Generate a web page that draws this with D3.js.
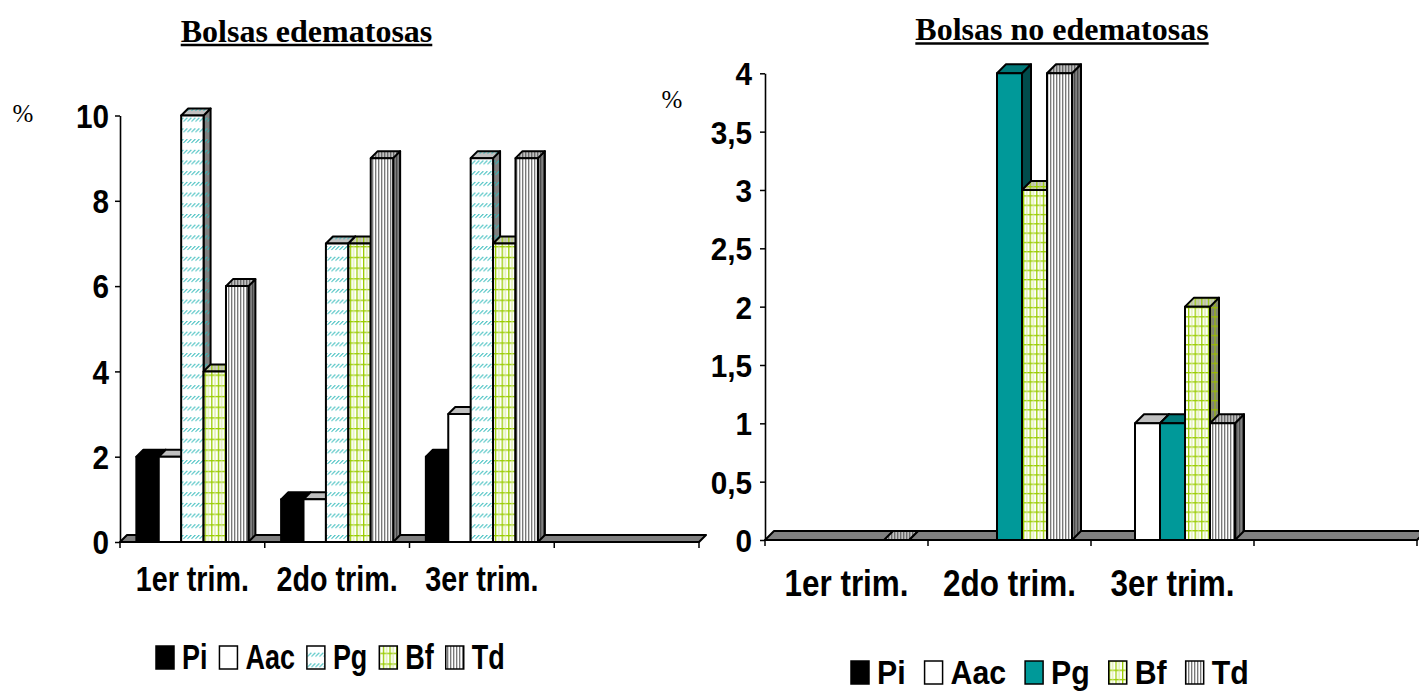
<!DOCTYPE html>
<html><head><meta charset="utf-8">
<script src="https://cdn.jsdelivr.net/npm/d3@7"></script>
<style>body{margin:0;background:#fff}svg{display:block}</style>
</head><body>
<svg id="c" width="1419" height="692"></svg>
<script>
// ---------- data ----------
const categories = ["1er trim.", "2do trim.", "3er trim.", ""];
const seriesNames = ["Pi", "Aac", "Pg", "Bf", "Td"];
// Bolsas edematosas (%)
const edemPi  = [2, 1, 2, null];
const edemAac = [2, 1, 3, null];
const edemPg  = [10, 7, 9, null];
const edemBf  = [4, 7, 7, null];
const edemTd  = [6, 9, 9, null];
// Bolsas no edematosas (%)
const noEdemPi  = [null, null, null, null];
const noEdemAac = [null, null, 1, null];
const noEdemPg  = [null, 4, 1, null];
const noEdemBf  = [null, 3, 2, null];
const noEdemTd  = [0, 4, 1, null];
const edemTicks = [0, 2, 4, 6, 8, 10];
const noEdemTicks = [0, 0.5, 1, 1.5, 2, 2.5, 3, 3.5, 4];
const titles = ["Bolsas edematosas", "Bolsas no edematosas"];
const unitLabel = "%";

// ---------- setup ----------
const svg = d3.select("#c");
const defs = svg.append("defs");
const SANS = "'Liberation Sans', Arial, sans-serif";
const SERIF = "'Liberation Serif', 'Times New Roman', serif";

function pattern(id, w, h, bg, draw) {
  const p = defs.append("pattern").attr("id", id).attr("patternUnits", "userSpaceOnUse")
    .attr("width", w).attr("height", h);
  p.append("rect").attr("width", w).attr("height", h).attr("fill", bg);
  draw(p);
}
function pgDraw(col) { return p => {
  p.append("path").attr("d", `M-0.5,3.8 L3.5,-0.2 M3.5,3.8 L7.5,-0.2`).attr("stroke", col).attr("stroke-width", 1).attr("fill", "none");
}; }
[["L", 10.7], ["R", 9.3]].forEach(([k, h]) => {
  pattern("pgF" + k, 4, h, "#fff", pgDraw("#33bbbb"));
  pattern("pgT" + k, 4, h, "#c0c0c0", pgDraw("#33bbbb"));
  pattern("pgS" + k, 4, h, "#808080", pgDraw("#33bbbb"));
  const grid = (c1, c2) => p => {
    p.append("rect").attr("x", 0).attr("y", 0).attr("width", 6.6).attr("height", 1.3).attr("fill", c1);
    p.append("rect").attr("x", 0).attr("y", 0).attr("width", 1.3).attr("height", h).attr("fill", c1);
    p.append("rect").attr("x", 3.3).attr("y", 0).attr("width", 1).attr("height", h).attr("fill", c2);
  };
  pattern("bfF" + k, 6.6, h, "#fff", grid("#99cc00", "#d4ea8a"));
  pattern("bfT" + k, 6.6, h, "#c8c8c8", grid("#99cc00", "#b8d060"));
  pattern("bfS" + k, 6.6, h, "#808080", grid("#99bb00", "#8c9a40"));
});
const stripes = (c1, c2) => p => {
  p.append("rect").attr("x", 0).attr("width", 1).attr("height", 4).attr("fill", c1);
  p.append("rect").attr("x", 1).attr("width", 1).attr("height", 4).attr("fill", c2);
};
pattern("tdF", 3, 4, "#fff", stripes("#7a7a7a", "#cfcfcf"));
pattern("tdT", 3, 4, "#c0c0c0", stripes("#6a6a6a", "#a0a0a0"));
pattern("tdS", 3, 4, "#808080", stripes("#4a4a4a", "#707070"));

function styles(k, solidPg) {
  return {
    Pi:  {front: "#000", top: "#000", side: "#000"},
    Aac: {front: "#fff", top: "#c0c0c0", side: "#808080"},
    Pg:  solidPg ? {front: "#009999", top: "#007878", side: "#004c4c"}
                 : {front: `url(#pgF${k})`, top: `url(#pgT${k})`, side: `url(#pgS${k})`},
    Bf:  {front: `url(#bfF${k})`, top: `url(#bfT${k})`, side: `url(#bfS${k})`},
    Td:  {front: "url(#tdF)", top: "url(#tdT)", side: "url(#tdS)"}
  };
}

const fmt = d => String(d).replace(".", ",");

function sText(g, str, x, y, size, sx, anchor, family, weight) {
  return g.append("text").attr("transform", `translate(${x},${y}) scale(${sx},1)`)
    .attr("text-anchor", anchor || "start").attr("font-family", family || SANS)
    .attr("font-weight", weight || "bold").attr("font-size", size).attr("fill", "#000").text(str);
}

function drawChart(cfg) {
  const g = svg.append("g");
  const x = d3.scaleBand().domain(d3.range(categories.length)).range([cfg.x0, cfg.x1]);
  const xs = d3.scaleBand().domain(seriesNames).range([0, x.bandwidth()]).paddingInner(0).paddingOuter(cfg.padOuter);
  const y = d3.scaleLinear().domain([0, cfg.yMax]).range([cfg.yBase, cfg.yTop]);
  const d = cfg.depth, base = y(0);

  // floor
  g.append("polygon")
    .attr("points", [[cfg.x0, base], [cfg.x1, base], [cfg.x1 + d, base - d], [cfg.x0 + d, base - d]].join(" "))
    .attr("fill", "#808080").attr("stroke", "#000").attr("stroke-width", 2).attr("stroke-linejoin", "round");

  // bars
  const st = cfg.styles;
  categories.forEach((c, i) => {
    seriesNames.forEach((s, j) => {
      const v = cfg.series[j][i];
      if (v === null || v === undefined) return;
      const bx = x(i) + xs(s), w = xs.bandwidth(), t = y(v);
      const bg = g.append("g").attr("stroke", "#000").attr("stroke-width", 2).attr("stroke-linejoin", "round");
      bg.append("polygon").attr("points", [[bx + w, t], [bx + w + d, t - d], [bx + w + d, base - d], [bx + w, base]].join(" "))
        .attr("fill", st[s].side);
      bg.append("polygon").attr("points", [[bx, t], [bx + w, t], [bx + w + d, t - d], [bx + d, t - d]].join(" "))
        .attr("fill", st[s].top);
      if (base - t > 0) bg.append("rect").attr("x", bx).attr("y", t).attr("width", w).attr("height", base - t)
        .attr("fill", st[s].front);
    });
  });

  // x axis line + boundary ticks
  g.append("line").attr("x1", cfg.x0).attr("x2", cfg.x1).attr("y1", base).attr("y2", base)
    .attr("stroke", "#000").attr("stroke-width", 2);
  const bounds = categories.map((c, i) => x(i)).concat([cfg.x1]);
  g.selectAll(".xt").data(bounds).join("line").attr("x1", b => b).attr("x2", b => b)
    .attr("y1", base).attr("y2", base + 6).attr("stroke", "#000").attr("stroke-width", 1.5);
  categories.forEach((c, i) => {
    if (c) sText(g, c, x(i) + x.bandwidth() / 2, cfg.catBaseline, cfg.catSize, cfg.catSx, "middle");
  });

  // y axis
  const ya = g.append("g").attr("transform", `translate(${cfg.x0},0)`)
    .call(d3.axisLeft(y).tickValues(cfg.ticks).tickSize(5).tickSizeOuter(0).tickPadding(cfg.tickPad).tickFormat(fmt));
  ya.select(".domain").attr("stroke", "#000").attr("stroke-width", 1.6);
  ya.selectAll(".tick line").attr("stroke", "#000").attr("stroke-width", 1.5);
  ya.selectAll(".tick text").attr("font-family", SANS).attr("font-weight", "bold")
    .attr("font-size", cfg.tickSize).attr("fill", "#000").attr("dy", "0.36em")
    .attr("transform", `scale(${cfg.tickSx},1)`).attr("x", -(5 + cfg.tickPad) / cfg.tickSx);

  // title
  const tt = g.append("text").attr("x", cfg.titleX).attr("y", cfg.titleY).attr("text-anchor", "middle")
    .attr("font-family", SERIF).attr("font-weight", "bold").attr("font-size", 32).attr("fill", "#000").text(cfg.title);
  const tw = tt.node().getComputedTextLength();
  g.append("line").attr("x1", cfg.titleX - tw / 2).attr("x2", cfg.titleX + tw / 2)
    .attr("y1", cfg.titleY + 3.5).attr("y2", cfg.titleY + 3.5).attr("stroke", "#000").attr("stroke-width", 2.5);

  // unit
  g.append("text").attr("x", cfg.pctX).attr("y", cfg.pctY).attr("text-anchor", "middle")
    .attr("font-family", SERIF).attr("font-size", 25).attr("fill", "#000").text(unitLabel);

  // legend
  let lx = cfg.legX;
  seriesNames.forEach(s => {
    g.append("rect").attr("x", lx).attr("y", cfg.legY).attr("width", cfg.swW).attr("height", cfg.swH)
      .attr("fill", st[s].front).attr("stroke", "#000").attr("stroke-width", 1.5);
    const tx = lx + cfg.swW + cfg.gap1;
    const t = sText(g, s, tx, cfg.legY + cfg.swH, cfg.legSize, cfg.legSx);
    lx = tx + t.node().getComputedTextLength() * cfg.legSx + cfg.gap2;
  });
}

drawChart({
  x0: 120, x1: 699, yBase: 542, yTop: 115.5, yMax: 10, depth: 7, padOuter: 0.73,
  series: [edemPi, edemAac, edemPg, edemBf, edemTd], ticks: edemTicks, styles: styles("L", false),
  tickSize: 33, tickSx: 0.9, tickPad: 6, catSize: 35, catSx: 0.82, catBaseline: 591,
  title: titles[0], titleX: 306.5, titleY: 41.5, pctX: 23, pctY: 122,
  legX: 156, legY: 646, swW: 18, swH: 23, gap1: 8, gap2: 12, legSize: 35, legSx: 0.77
});
drawChart({
  x0: 765, x1: 1417, yBase: 540, yTop: 73.3, yMax: 4, depth: 9, padOuter: 0.76,
  series: [noEdemPi, noEdemAac, noEdemPg, noEdemBf, noEdemTd], ticks: noEdemTicks, styles: styles("R", true),
  tickSize: 32, tickSx: 0.93, tickPad: 8, catSize: 37, catSx: 0.85, catBaseline: 596,
  title: titles[1], titleX: 1062, titleY: 40, pctX: 672, pctY: 108,
  legX: 851, legY: 661, swW: 18, swH: 23, gap1: 8, gap2: 19, legSize: 34, legSx: 0.89
});
</script>
</body></html>
